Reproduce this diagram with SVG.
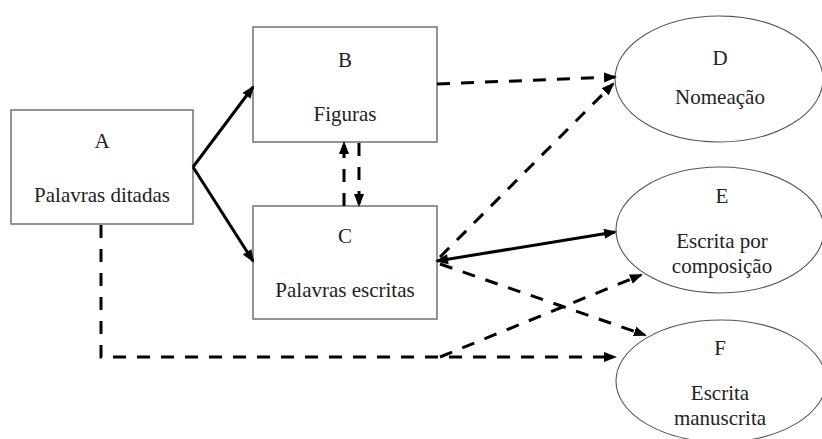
<svg xmlns="http://www.w3.org/2000/svg" width="822" height="439" viewBox="0 0 822 439">
<style>
.box{fill:#fff;stroke:#7a7a7a;stroke-width:1.6}
.ell{fill:#fff;stroke:#555;stroke-width:1.1}
.s{fill:none;stroke:#000;stroke-width:3}
.d{fill:none;stroke:#000;stroke-width:3;stroke-dasharray:13 11}
</style>
<defs>
<marker id="ah" markerUnits="userSpaceOnUse" markerWidth="14" markerHeight="12" refX="11" refY="5" orient="auto">
<path d="M0,0 L13,5 L0,10 z" fill="#000"/>
</marker>
<marker id="as" markerUnits="userSpaceOnUse" markerWidth="14" markerHeight="12" refX="2" refY="5" orient="auto">
<path d="M13,0 L0,5 L13,10 z" fill="#000"/>
</marker>
</defs>
<rect width="822" height="439" fill="#fff"/>
<g font-family="Liberation Serif" font-size="21" fill="#222" text-anchor="middle">
<g id="A"><rect class="box" x="11" y="110" width="182" height="114"/><text x="102" y="148">A</text><text x="102" y="202">Palavras ditadas</text></g>
<g id="B"><rect class="box" x="253" y="27" width="184" height="115"/><text x="345" y="67">B</text><text x="345" y="121">Figuras</text></g>
<g id="C"><rect class="box" x="253" y="206" width="184" height="113"/><text x="345" y="243">C</text><text x="345" y="297">Palavras escritas</text></g>
<g id="D"><ellipse class="ell" cx="719" cy="79" rx="104" ry="63"/><text x="720" y="65">D</text><text x="720" y="104">Nomeação</text></g>
<g id="E"><ellipse class="ell" cx="720" cy="230" rx="104" ry="63"/><text x="722" y="203">E</text><text x="722" y="248">Escrita por</text><text x="722" y="273">composição</text></g>
<g id="F"><ellipse class="ell" cx="721" cy="381" rx="105" ry="61"/><text x="720" y="355">F</text><text x="720" y="400">Escrita</text><text x="720" y="425">manuscrita</text></g>
</g>
<g id="connectors">
<line class="s" x1="193" y1="167" x2="253" y2="87" marker-end="url(#ah)"/>
<line class="s" x1="193" y1="167" x2="253" y2="261" marker-end="url(#ah)"/>
<line class="d" x1="437" y1="84" x2="615" y2="77" marker-end="url(#ah)"/>
<line class="d" x1="440" y1="257" x2="613" y2="84" marker-end="url(#ah)"/>
<line class="s" x1="437" y1="261" x2="615" y2="232" marker-start="url(#as)" marker-end="url(#ah)"/>
<line class="d" x1="440" y1="264" x2="645" y2="335" marker-end="url(#ah)"/>
<line class="d" x1="344" y1="206" x2="344" y2="143" marker-end="url(#ah)"/>
<line class="d" x1="359" y1="143" x2="359" y2="205" marker-end="url(#ah)"/>
<polyline class="d" points="101,225 101,357 615,357" marker-end="url(#ah)"/>
<line class="d" x1="440" y1="357" x2="641" y2="275" marker-end="url(#ah)"/>
</g>
</svg>
